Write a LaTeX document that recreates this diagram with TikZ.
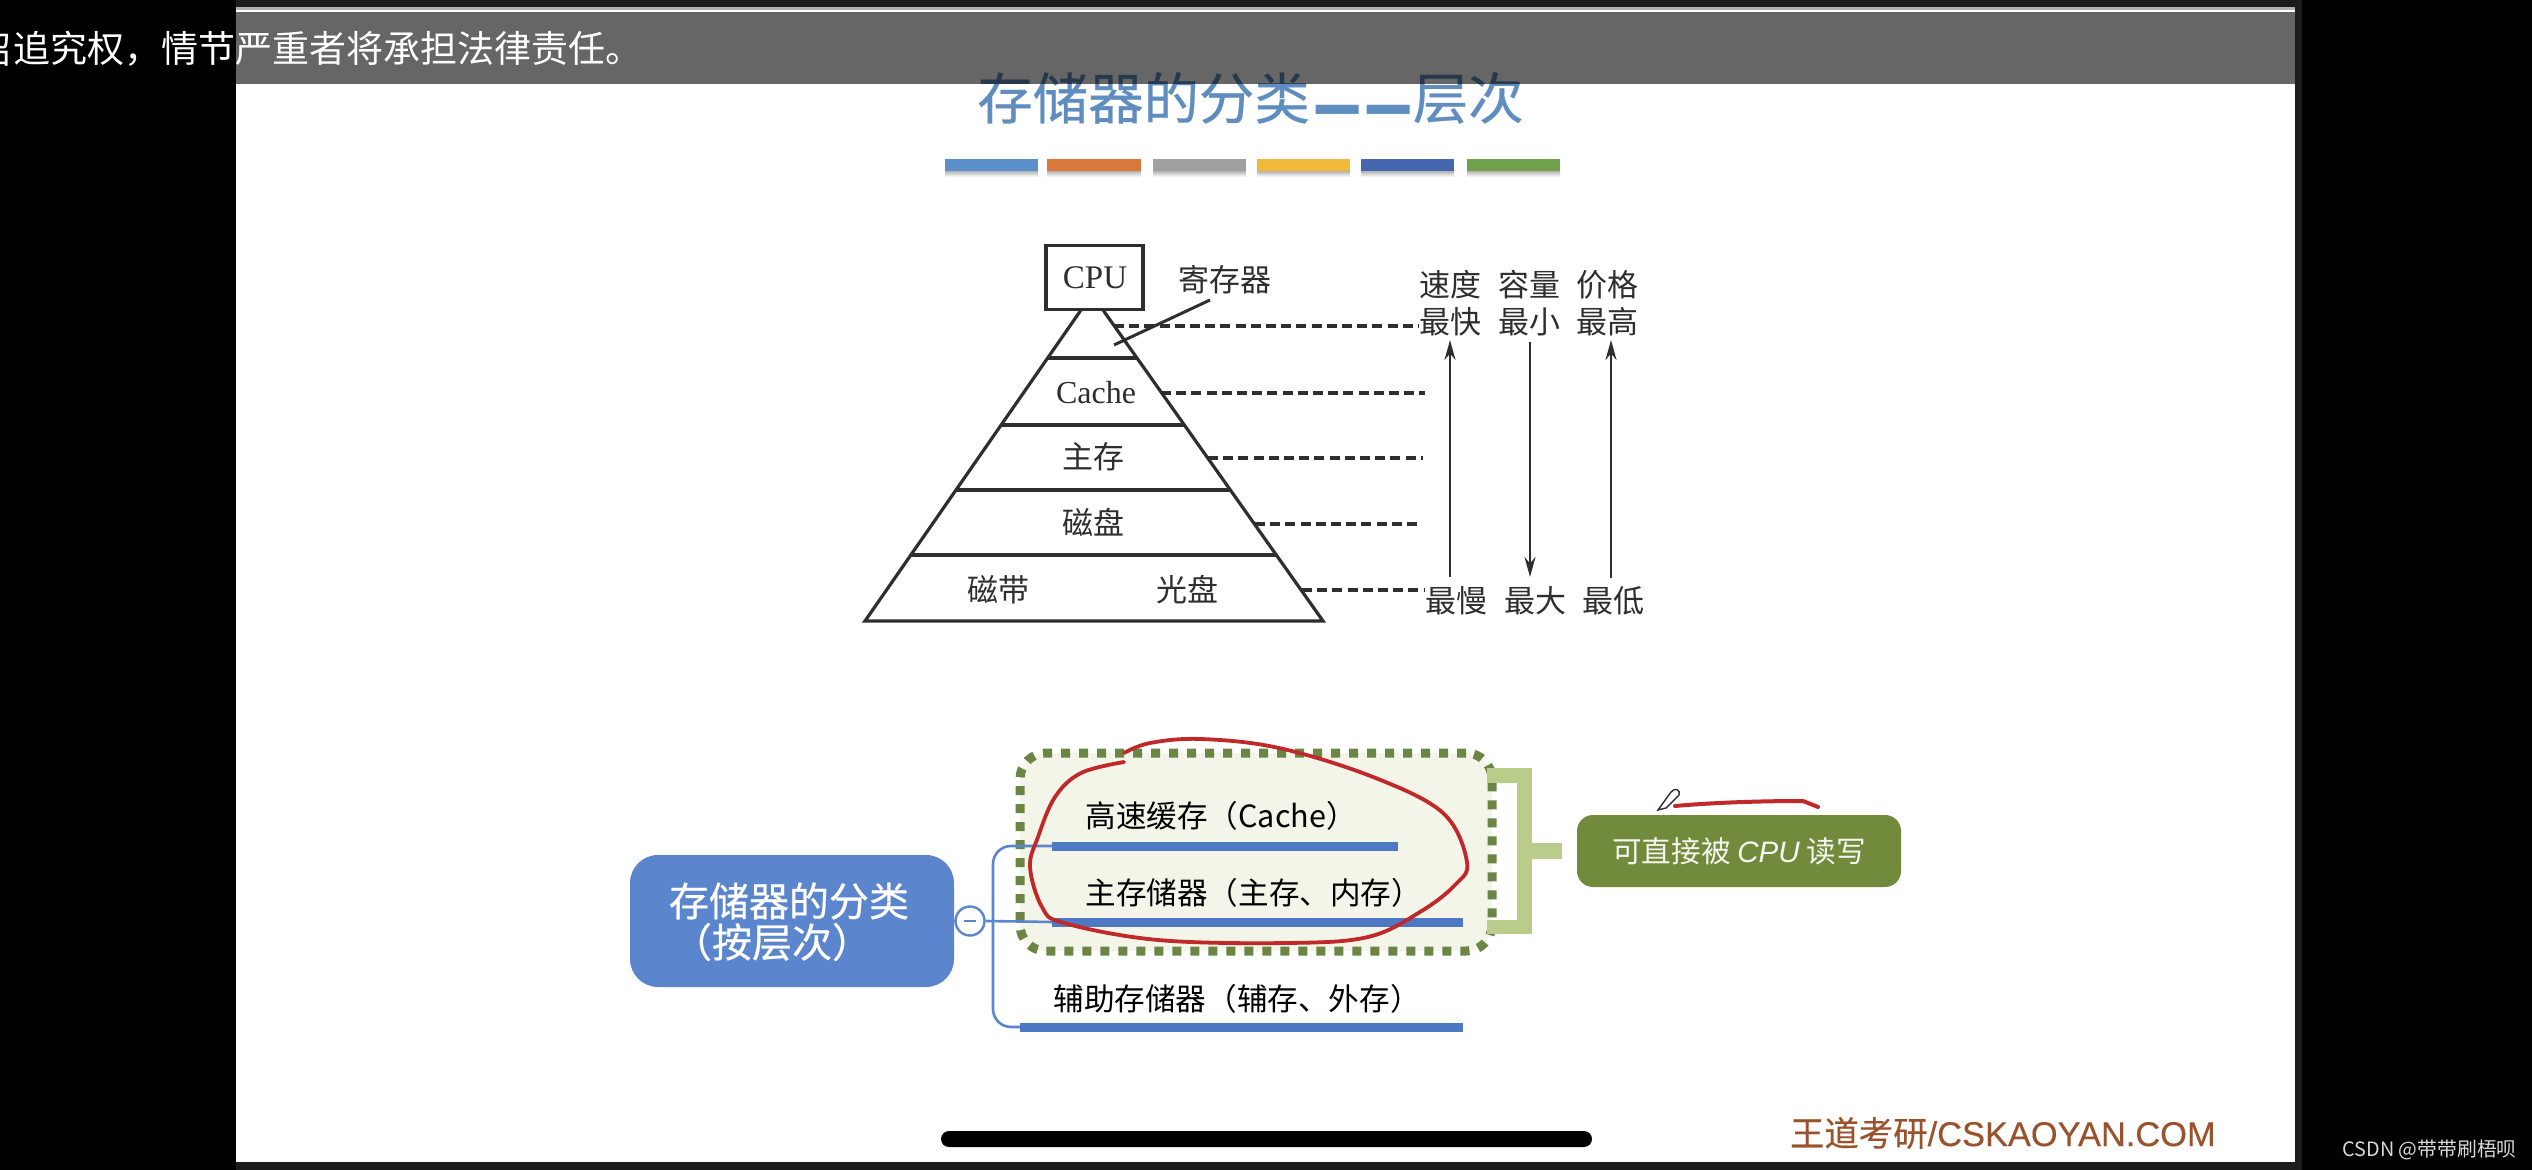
\documentclass[tikz,border=0pt]{standalone}
\usepackage{graphicx}
\usepackage{fontspec}
\setmainfont{Noto Sans CJK SC}
\newfontfamily\latserif{Liberation Serif}
\newfontfamily\latsans{Liberation Sans}
\newfontfamily\semibold[FakeBold=0.5]{Noto Sans CJK SC}
\newfontfamily\logolat[FakeBold=0.3]{Liberation Sans}
\newfontfamily\logocjk[FakeBold=0.3]{Noto Sans CJK SC}
\usetikzlibrary{arrows.meta,calc,shapes.geometric}
\newcommand{\fs}[1]{\fontsize{#1pt}{#1pt}\selectfont}
\definecolor{barblue}{HTML}{5B8FC9}
\definecolor{barorange}{HTML}{D9773C}
\definecolor{bargray}{HTML}{A0A0A0}
\definecolor{baryellow}{HTML}{F0B93A}
\definecolor{bardark}{HTML}{4667B0}
\definecolor{bargreen}{HTML}{70A24C}
\definecolor{titleblue}{HTML}{5F8DBF}
\definecolor{ink}{HTML}{2E2E2E}
\definecolor{mapblue}{HTML}{5B85CC}
\definecolor{linebar}{HTML}{4F78C4}
\definecolor{olive}{HTML}{728A3C}
\definecolor{dashgreen}{HTML}{6B8545}
\definecolor{palefill}{HTML}{F3F5E8}
\definecolor{bracket}{HTML}{B9CC8A}
\definecolor{penred}{HTML}{C0282A}
\definecolor{logo}{HTML}{99522B}
\definecolor{topdark}{HTML}{1C1C1C}
\tikzset{
  pyr/.style={draw=ink,line width=1.6pt,line join=miter},
  dashlink/.style={draw=ink,line width=1.6pt,dash pattern=on 5pt off 2.6pt},
  scalearrow/.style={draw=ink,line width=1.1pt,-{Stealth[length=10pt,width=5.5pt]}},
  pyrtext/.style={text=ink,font=\fs{15.5},inner sep=0pt},
  pyrlatin/.style={text=ink,font=\latserif\fs{16},inner sep=0pt},
  maptext/.style={text=black,font=\fs{15.3},inner sep=0pt},
  thickbar/.style={draw=linebar,line width=4.5pt},
  branch/.style={draw=mapblue,line width=1.3pt,rounded corners=9pt},
  titletext/.style={text=titleblue,font=\semibold\fs{27.7},inner sep=0pt},
}
\begin{document}
\begin{tikzpicture}[x=0.5pt,y=-0.5pt]
\useasboundingbox (0,0) rectangle (2532,1170);
\fill[black] (0,0) rectangle (2532,1170);
\fill[topdark] (236,0) rectangle (2302,1170);
\fill[white] (236,9) rectangle (2295,1162);
\fill[gray!60] (236,7) rectangle (2295,10);

% title and colour bars
\node[titletext,anchor=west] (title1) at (977,98) {存储器的分类};
\node[text=titleblue,font=\bfseries\fs{24},inner sep=0pt,anchor=base] (dash1) at (1338,134) {\scalebox{1.1}[1.7]{—}};
\node[text=titleblue,font=\bfseries\fs{24},inner sep=0pt,anchor=base] (dash2) at (1389,134) {\scalebox{1.1}[1.7]{—}};
\node[titletext,anchor=east] (title2) at (1524,98) {层次};
\foreach \xa/\xb/\c in {945/1038/barblue,1047/1141/barorange,1153/1246/bargray,1257/1350/baryellow,1361/1454/bardark,1467/1560/bargreen}{
  \shade[top color=black!30,bottom color=white] (\xa,171) rectangle (\xb,177);
  \fill[\c] (\xa,159) rectangle (\xb,171);
}

% subtitle bar
\fill[black,opacity=0.6] (236,12) rectangle (2295,84);
\begin{scope}
  \clip (0,12) rectangle (10,84);
  \node[text=white,font=\fs{18.5},inner sep=0pt,anchor=east] (cutchar) at (12,49) {招};
\end{scope}
\node[text=white,font=\fs{18.5},inner sep=0pt,anchor=west] (sub) at (13,49) {追究权，情节严重者将承担法律责任。};

% pyramid
\node[draw=ink,line width=1.6pt,minimum width=48.5pt,minimum height=32pt,inner sep=0pt] (cpu) at (1094.5,277.5) {};
\node[pyrlatin,font=\latserif\fs{16.5}] (cputext) at (1095,278) {CPU};
\coordinate (tl) at (1081,310);
\coordinate (tr) at (1103,310);
\coordinate (bl) at (865,621);
\coordinate (br) at (1323,621);
\draw[pyr] (tl) -- (bl) -- (br) -- (tr);
\foreach \yy in {358,425,490,555}{
  \pgfmathsetmacro{\tt}{(\yy-310)/311}
  \draw[pyr] ($(tl)!\tt!(bl)$) -- ($(tr)!\tt!(br)$);
}
\node[pyrtext] (reg) at (1225,280) {寄存器};
\coordinate (regA) at (1210,300);
\coordinate (regB) at (1114,345);
\draw[draw=ink,line width=1.5pt] (regA) -- (regB);
\node[pyrlatin] (cache) at (1096,393) {Cache};
\node[pyrtext] (mem) at (1093,457) {主存};
\node[pyrtext] (disk) at (1093,522) {磁盘};
\node[pyrtext] (tape) at (998,590) {磁带};
\node[pyrtext] (optic) at (1187,590) {光盘};

% scale labels
\node[pyrtext] (speed) at (1450,285) {速度};
\node[pyrtext] (cap) at (1529,285) {容量};
\node[pyrtext] (price) at (1607,285) {价格};
\node[pyrtext] (fast) at (1450,322) {最快};
\node[pyrtext] (small) at (1529,322) {最小};
\node[pyrtext] (high) at (1607,322) {最高};
\node[pyrtext] (slow) at (1456,601) {最慢};
\node[pyrtext] (big) at (1535,601) {最大};
\node[pyrtext] (low) at (1613,601) {最低};

% dashed level links
\coordinate (d1a) at (1114,326); \coordinate (d1b) at (1419,326);
\coordinate (d2a) at (1161,393); \coordinate (d2b) at (1425,393);
\coordinate (d3a) at (1208,458); \coordinate (d3b) at (1423,458);
\coordinate (d4a) at (1255,524); \coordinate (d4b) at (1420,524);
\coordinate (d5a) at (1302,590); \coordinate (d5b) at (1424,590);
\draw[dashlink] (d1a) -- (d1b);
\draw[dashlink] (d2a) -- (d2b);
\draw[dashlink] (d3a) -- (d3b);
\draw[dashlink] (d4a) -- (d4b);
\draw[dashlink] (d5a) -- (d5b);

% scale arrows
\coordinate (a1s) at (1450,577); \coordinate (a1e) at (1450,340);
\coordinate (a2s) at (1530,342); \coordinate (a2e) at (1530,577);
\coordinate (a3s) at (1611,578); \coordinate (a3e) at (1611,340);
\draw[scalearrow] (a1s) -- (a1e);
\draw[scalearrow] (a2s) -- (a2e);
\draw[scalearrow] (a3s) -- (a3e);

% lower mind map: dotted group first
\node[draw=dashgreen,fill=palefill,line width=4.5pt,dash pattern=on 4.5pt off 4.5pt,rounded corners=13pt,minimum width=236pt,minimum height=99pt,inner sep=0pt] (group) at (1256,852) {};

% bracket
\fill[bracket] (1487,768) rectangle (1532,783);
\fill[bracket] (1487,920) rectangle (1532,934);
\fill[bracket] (1517,768) rectangle (1532,934);
\fill[bracket] (1532,843) rectangle (1562,859);

% root, connector
\node[fill=mapblue,rounded corners=14pt,minimum width=162pt,minimum height=66pt,inner sep=0pt] (root) at (792,921) {};
\node[text=white,font=\semibold\fs{20},inner sep=0pt] (root1) at (789,901) {存储器的分类};
\node[text=white,font=\semibold\fs{20},inner sep=0pt] (root2) at (772,942) {（按层次）};
\coordinate (b1) at (1052,846);
\coordinate (b1e) at (1398,846);
\coordinate (b2) at (1052,922);
\coordinate (b2e) at (1463,922);
\coordinate (b3) at (1020,1027);
\coordinate (b3e) at (1463,1027);
\node[circle,draw=mapblue,fill=white,line width=1.2pt,minimum size=14.5pt,inner sep=0pt] (minus) at (970,921) {};
\draw[mapblue,line width=1.2pt] (964,921) -- (976,921);
\draw[branch] (root.east) -- (minus.west);
\draw[branch] (minus.east) -- (b2);
\draw[branch] (993,921) |- (b1);
\draw[branch] (993,921) |- (b3);
\draw[thickbar] (b1) -- (b1e);
\draw[thickbar] (b2) -- (b2e);
\draw[thickbar] (b3) -- (b3e);
\node[maptext,anchor=west] (m1) at (1085,816) {高速缓存（Cache）};
\node[maptext,anchor=west] (m2) at (1085,893) {主存储器（主存、内存）};
\node[maptext,anchor=west] (m3) at (1053,999) {辅助存储器（辅存、外存）};

% green note
\node[fill=olive,rounded corners=8pt,minimum width=162pt,minimum height=36pt,inner sep=0pt,text=white!92!olive,font=\fs{14.8}] (note) at (1739,851) {可直接被 {\latsans\itshape CPU} 读写};

% red handwritten marks
\draw[penred,line width=1.9pt,line cap=round,line join=round] plot[smooth,tension=0.6] coordinates {
  (1124,762) (1081,773) (1055,797) (1038,837) (1030,867) (1042,907) (1064,923) (1158,940) (1287,943) (1368,937) (1420,912) (1455,885) (1467,862) (1443,813) (1373,777) (1279,748) (1201,739) (1150,743) (1124,753)};
\draw[penred,line width=2pt,line cap=round,line join=round] (1675,806) .. controls (1720,802) and (1770,801) .. (1803,801) -- (1818,807);
\draw[draw=ink,fill=white,line width=0.7pt] (1658,810) -- (1671,792) .. controls (1675,787) and (1681,790) .. (1679,795) -- (1666,808) -- cycle;

% overlays
\fill[black,rounded corners=4pt] (941,1131) rectangle (1592,1147);
\node[text=logo,font=\logolat\fs{17.2},inner sep=0pt,anchor=east] (logotext) at (2216,1133) {{\logocjk 王道考研}/CSKAOYAN.COM};
\node[text=black!15,font=\fs{9.9},inner sep=0pt,anchor=east] (csdn) at (2517,1150) {CSDN @带带刷梧呗};
\end{tikzpicture}
\end{document}
